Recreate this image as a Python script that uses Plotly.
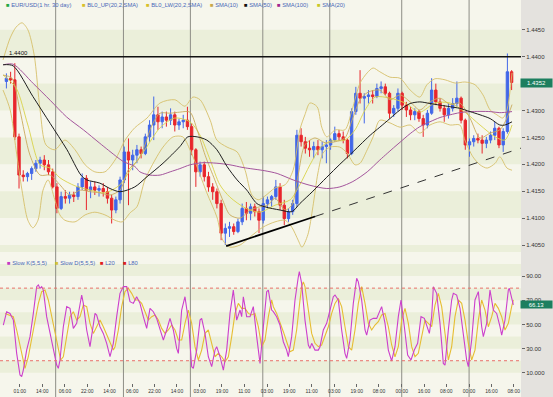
import plotly.graph_objects as go

# ---------------- data (3-hour bars) ----------------
bar_open = [1.4354, 1.4360, 1.4357, 1.4251, 1.4180, 1.4177, 1.4183, 1.4192, 1.4202, 1.4208,
            1.4199, 1.4186, 1.4158, 1.4118, 1.4140, 1.4137, 1.4143, 1.4140, 1.4158, 1.4174,
            1.4152, 1.4158, 1.4152, 1.4155, 1.4149, 1.4137, 1.4115, 1.4134, 1.4171, 1.4223,
            1.4208, 1.4217, 1.4227, 1.4220, 1.4251, 1.4273, 1.4292, 1.4279, 1.4288, 1.4282,
            1.4292, 1.4273, 1.4279, 1.4282, 1.4270, 1.4227, 1.4186, 1.4199, 1.4177, 1.4158,
            1.4149, 1.4127, 1.4072, 1.4081, 1.4084, 1.4075, 1.4093, 1.4118, 1.4109, 1.4121,
            1.4112, 1.4096, 1.4127, 1.4134, 1.4140, 1.4158, 1.4124, 1.4099, 1.4112, 1.4127,
            1.4254, 1.4242, 1.4230, 1.4227, 1.4233, 1.4227, 1.4233, 1.4236, 1.4245, 1.4257,
            1.4251, 1.4245, 1.4220, 1.4298, 1.4332, 1.4323, 1.4326, 1.4329, 1.4326, 1.4341,
            1.4344, 1.4332, 1.4295, 1.4304, 1.4332, 1.4310, 1.4301, 1.4292, 1.4298, 1.4285,
            1.4273, 1.4295, 1.4338, 1.4316, 1.4304, 1.4292, 1.4304, 1.4313, 1.4323, 1.4282,
            1.4236, 1.4242, 1.4248, 1.4245, 1.4239, 1.4245, 1.4254, 1.4267, 1.4236, 1.4261,
            1.4372]
bar_high = [1.4369, 1.4372, 1.4388, 1.4257, 1.4189, 1.4186, 1.4196, 1.4208, 1.4214, 1.4217,
            1.4208, 1.4192, 1.4165, 1.4149, 1.4152, 1.4149, 1.4149, 1.4165, 1.4183, 1.4180,
            1.4168, 1.4168, 1.4161, 1.4165, 1.4158, 1.4143, 1.4140, 1.4177, 1.4233, 1.4248,
            1.4227, 1.4236, 1.4233, 1.4257, 1.4282, 1.4326, 1.4307, 1.4298, 1.4298, 1.4304,
            1.4298, 1.4285, 1.4292, 1.4307, 1.4276, 1.4230, 1.4205, 1.4205, 1.4186, 1.4165,
            1.4155, 1.4134, 1.4090, 1.4093, 1.4090, 1.4099, 1.4127, 1.4130, 1.4127, 1.4127,
            1.4118, 1.4140, 1.4140, 1.4143, 1.4171, 1.4165, 1.4134, 1.4118, 1.4134, 1.4264,
            1.4267, 1.4251, 1.4245, 1.4242, 1.4245, 1.4242, 1.4245, 1.4248, 1.4270, 1.4264,
            1.4261, 1.4248, 1.4304, 1.4344, 1.4375, 1.4332, 1.4338, 1.4338, 1.4350, 1.4354,
            1.4350, 1.4335, 1.4310, 1.4341, 1.4335, 1.4316, 1.4307, 1.4304, 1.4301, 1.4292,
            1.4301, 1.4360, 1.4350, 1.4323, 1.4310, 1.4313, 1.4323, 1.4354, 1.4326, 1.4285,
            1.4248, 1.4254, 1.4257, 1.4254, 1.4251, 1.4261, 1.4279, 1.4270, 1.4267, 1.4406,
            1.4375]
bar_low = [1.4341, 1.4350, 1.4245, 1.4155, 1.4168, 1.4168, 1.4171, 1.4186, 1.4192, 1.4189,
           1.4180, 1.4155, 1.4109, 1.4115, 1.4127, 1.4127, 1.4130, 1.4134, 1.4152, 1.4115,
           1.4137, 1.4143, 1.4140, 1.4140, 1.4127, 1.4090, 1.4109, 1.4127, 1.4165, 1.4124,
           1.4189, 1.4202, 1.4211, 1.4217, 1.4242, 1.4245, 1.4264, 1.4267, 1.4270, 1.4273,
           1.4261, 1.4264, 1.4267, 1.4264, 1.4217, 1.4158, 1.4177, 1.4168, 1.4149, 1.4134,
           1.4118, 1.4059, 1.4050, 1.4065, 1.4069, 1.4072, 1.4087, 1.4096, 1.4096, 1.4103,
           1.4072, 1.4090, 1.4118, 1.4121, 1.4134, 1.4115, 1.4087, 1.4093, 1.4106, 1.4121,
           1.4233, 1.4220, 1.4214, 1.4211, 1.4217, 1.4211, 1.4202, 1.4227, 1.4242, 1.4245,
           1.4239, 1.4211, 1.4217, 1.4292, 1.4313, 1.4276, 1.4313, 1.4313, 1.4323, 1.4332,
           1.4329, 1.4285, 1.4288, 1.4298, 1.4301, 1.4288, 1.4282, 1.4282, 1.4279, 1.4251,
           1.4267, 1.4292, 1.4310, 1.4298, 1.4279, 1.4285, 1.4298, 1.4307, 1.4276, 1.4227,
           1.4214, 1.4233, 1.4239, 1.4220, 1.4230, 1.4239, 1.4245, 1.4230, 1.4223, 1.4257,
           1.4338]
bar_close = [1.4360, 1.4357, 1.4251, 1.4180, 1.4177, 1.4183, 1.4192, 1.4202, 1.4208, 1.4199,
             1.4186, 1.4158, 1.4118, 1.4140, 1.4137, 1.4143, 1.4140, 1.4158, 1.4174, 1.4152,
             1.4158, 1.4152, 1.4155, 1.4149, 1.4137, 1.4115, 1.4134, 1.4171, 1.4223, 1.4208,
             1.4217, 1.4227, 1.4220, 1.4251, 1.4273, 1.4292, 1.4279, 1.4288, 1.4282, 1.4292,
             1.4273, 1.4279, 1.4282, 1.4270, 1.4227, 1.4186, 1.4199, 1.4177, 1.4158, 1.4149,
             1.4127, 1.4072, 1.4081, 1.4084, 1.4075, 1.4093, 1.4118, 1.4109, 1.4121, 1.4112,
             1.4096, 1.4127, 1.4134, 1.4140, 1.4158, 1.4124, 1.4099, 1.4112, 1.4127, 1.4254,
             1.4242, 1.4230, 1.4227, 1.4233, 1.4227, 1.4233, 1.4236, 1.4245, 1.4257, 1.4251,
             1.4245, 1.4220, 1.4298, 1.4332, 1.4323, 1.4326, 1.4329, 1.4326, 1.4341, 1.4344,
             1.4332, 1.4295, 1.4304, 1.4332, 1.4310, 1.4301, 1.4292, 1.4298, 1.4285, 1.4273,
             1.4295, 1.4338, 1.4316, 1.4304, 1.4292, 1.4304, 1.4313, 1.4323, 1.4282, 1.4236,
             1.4242, 1.4248, 1.4245, 1.4239, 1.4245, 1.4254, 1.4267, 1.4236, 1.4261, 1.4372,
             1.4352]
bar_pos = list(range(len(bar_close)))

# Bollinger bands and moving averages (bar position, price)
bb_up_pos = [-0.8, 0.9, 2.3, 3.7, 5.1, 6.6, 8.0, 9.4, 11.5, 13.9, 16.3, 18.7, 21.0, 23.4, 25.8, 28.2,
             30.5, 33.4, 36.5, 40.0, 42.4, 44.3, 46.0, 48.4, 50.0, 52.4, 54.8, 56.7, 58.3, 59.8, 61.4,
             63.8, 66.2, 68.1, 69.7, 70.9, 72.1, 73.8, 74.9, 76.1, 78.1, 80.4, 82.1, 84.0, 85.7, 87.1,
             88.7, 91.1, 93.5, 95.9, 98.2, 99.9, 101.8, 104.2, 106.6, 108.9, 111.3, 113.2, 114.9,
             116.5, 117.9, 118.9, 120.1]
bb_up_val = [1.4394, 1.4435, 1.4455, 1.4463, 1.4450, 1.4403, 1.4301, 1.4236, 1.4227, 1.4245, 1.4227,
             1.4199, 1.4186, 1.4186, 1.4208, 1.4245, 1.4268, 1.4286, 1.4314, 1.4320, 1.4308, 1.4325,
             1.4320, 1.4282, 1.4245, 1.4232, 1.4223, 1.4189, 1.4143, 1.4134, 1.4141, 1.4156, 1.4162,
             1.4189, 1.4264, 1.4292, 1.4314, 1.4307, 1.4269, 1.4251, 1.4264, 1.4264, 1.4301, 1.4351,
             1.4370, 1.4379, 1.4372, 1.4362, 1.4360, 1.4338, 1.4325, 1.4348, 1.4359, 1.4357, 1.4351,
             1.4353, 1.4348, 1.4329, 1.4301, 1.4292, 1.4286, 1.4301, 1.4370]
bb_lo_pos = [-0.8, 0.9, 2.3, 3.7, 5.1, 6.3, 7.5, 8.7, 9.9, 11.5, 12.7, 13.9, 16.3, 18.7, 21.0, 23.4,
             25.8, 27.5, 29.4, 31.0, 32.9, 35.3, 37.2, 39.6, 41.9, 43.6, 45.3, 47.6, 50.0, 51.4, 53.1,
             55.5, 57.9, 60.9, 63.8, 66.2, 67.8, 69.3, 70.2, 71.6, 72.8, 74.0, 75.2, 76.9, 79.2, 80.9,
             82.8, 84.0, 85.7, 87.1, 88.7, 91.1, 93.5, 95.9, 98.2, 100.6, 103.0, 105.4, 107.7, 108.9,
             110.8, 112.5, 114.2, 116.1, 117.2, 118.9, 120.1]
bb_lo_val = [1.4338, 1.4301, 1.4227, 1.4152, 1.4096, 1.4082, 1.4096, 1.4152, 1.4171, 1.4134, 1.4106,
             1.4096, 1.4093, 1.4106, 1.4111, 1.4106, 1.4096, 1.4093, 1.4110, 1.4121, 1.4171, 1.4208,
             1.4232, 1.4251, 1.4251, 1.4227, 1.4195, 1.4147, 1.4102, 1.4059, 1.4046, 1.4050, 1.4065,
             1.4083, 1.4093, 1.4096, 1.4083, 1.4059, 1.4046, 1.4069, 1.4121, 1.4184, 1.4221, 1.4232,
             1.4232, 1.4221, 1.4199, 1.4202, 1.4227, 1.4251, 1.4282, 1.4277, 1.4269, 1.4273, 1.4258,
             1.4273, 1.4279, 1.4273, 1.4273, 1.4245, 1.4214, 1.4199, 1.4193, 1.4202, 1.4214, 1.4193,
             1.4189]
sma10_pos = [-0.8, 1.3, 3.2, 5.6, 8.0, 10.4, 12.7, 15.1, 17.5, 19.9, 22.2, 24.6, 27.0, 28.9, 31.3,
             32.9, 34.6, 36.5, 38.9, 41.2, 43.6, 45.3, 47.2, 49.5, 51.2, 53.1, 55.5, 57.9, 60.2, 62.1,
             63.8, 66.2, 67.8, 69.3, 70.9, 73.3, 75.7, 78.1, 80.4, 82.1, 84.0, 85.9, 88.7, 91.1, 93.5,
             95.9, 98.2, 100.6, 103.0, 105.4, 107.7, 110.1, 112.5, 114.9, 117.2, 118.9, 120.1]
sma10_val = [1.4366, 1.4360, 1.4301, 1.4217, 1.4180, 1.4180, 1.4162, 1.4143, 1.4152, 1.4149, 1.4147,
             1.4143, 1.4152, 1.4189, 1.4208, 1.4236, 1.4273, 1.4295, 1.4295, 1.4297, 1.4297, 1.4264,
             1.4217, 1.4171, 1.4137, 1.4106, 1.4100, 1.4115, 1.4121, 1.4124, 1.4137, 1.4115, 1.4124,
             1.4180, 1.4236, 1.4249, 1.4240, 1.4242, 1.4249, 1.4282, 1.4320, 1.4334, 1.4338, 1.4320,
             1.4329, 1.4316, 1.4301, 1.4316, 1.4323, 1.4311, 1.4314, 1.4286, 1.4249, 1.4258, 1.4264,
             1.4286, 1.4311]
sma20_pos = [-0.8, 2.3, 5.1, 8.0, 10.4, 12.7, 16.3, 19.9, 23.4, 27.0, 29.4, 32.9, 36.5, 40.0, 43.6,
             46.0, 48.4, 50.7, 53.1, 56.7, 60.2, 63.8, 67.4, 69.7, 72.1, 74.5, 76.9, 80.4, 82.8, 85.2,
             87.6, 91.1, 94.7, 98.2, 101.8, 105.4, 108.9, 112.5, 116.1, 118.4, 120.1]
sma20_val = [1.4366, 1.4342, 1.4273, 1.4199, 1.4193, 1.4175, 1.4160, 1.4152, 1.4147, 1.4162, 1.4189,
             1.4227, 1.4268, 1.4286, 1.4279, 1.4254, 1.4208, 1.4162, 1.4139, 1.4119, 1.4111, 1.4124,
             1.4134, 1.4162, 1.4199, 1.4230, 1.4243, 1.4245, 1.4264, 1.4301, 1.4325, 1.4323, 1.4314,
             1.4297, 1.4314, 1.4314, 1.4297, 1.4273, 1.4251, 1.4245, 1.4273]
sma50_pos = [-0.8, 1.6, 6.3, 10.4, 14.4, 17.7, 19.1, 22.2, 24.6, 27.0, 30.5, 33.4, 37.2, 41.2, 43.1,
             45.3, 47.6, 50.0, 52.4, 54.8, 57.1, 59.5, 61.4, 65.0, 67.8, 69.7, 72.8, 76.1, 79.2, 81.1,
             84.0, 86.4, 88.7, 91.1, 93.5, 95.9, 98.2, 100.6, 103.0, 105.4, 107.7, 110.1, 112.5, 114.9,
             117.2, 118.4, 120.1]
sma50_val = [1.4385, 1.4383, 1.4326, 1.4276, 1.4227, 1.4180, 1.4171, 1.4165, 1.4155, 1.4149, 1.4158,
             1.4177, 1.4202, 1.4233, 1.4251, 1.4251, 1.4245, 1.4227, 1.4196, 1.4171, 1.4152, 1.4127,
             1.4121, 1.4115, 1.4112, 1.4127, 1.4150, 1.4176, 1.4200, 1.4214, 1.4236, 1.4254, 1.4269,
             1.4285, 1.4301, 1.4313, 1.4316, 1.4313, 1.4310, 1.4307, 1.4304, 1.4298, 1.4292, 1.4285,
             1.4273, 1.4273, 1.4279]
sma100_pos = [-0.7, 1.6, 6.4, 10.4, 14.3, 18.3, 22.2, 26.2, 27.8, 30.5, 31.7, 34.1, 36.5, 38.9, 41.2,
              43.6, 46.7, 50.0, 53.1, 56.2, 61.4, 64.3, 68.1, 72.1, 76.1, 79.2, 82.3, 85.7, 88.7, 92.3,
              93.5, 95.9, 98.2, 100.6, 103.0, 105.4, 107.7, 110.1, 114.9, 117.2, 120.1]
sma100_val = [1.4385, 1.4386, 1.4350, 1.4319, 1.4288, 1.4264, 1.4239, 1.4214, 1.4205, 1.4196, 1.4186,
              1.4180, 1.4180, 1.4186, 1.4192, 1.4199, 1.4203, 1.4202, 1.4199, 1.4194, 1.4188, 1.4183,
              1.4171, 1.4161, 1.4155, 1.4158, 1.4168, 1.4186, 1.4208, 1.4233, 1.4241, 1.4257, 1.4270,
              1.4279, 1.4287, 1.4292, 1.4296, 1.4298, 1.4298, 1.4296, 1.4298]

# Slow stochastic
k_pos = [-0.73, 0.06, 0.86, 1.65, 2.44, 3.23, 3.63, 4.02, 4.81, 5.61,
         6.40, 7.19, 7.59, 7.98, 8.38, 8.77, 9.56, 10.36, 11.15, 11.94,
         12.34, 12.73, 13.52, 14.32, 15.11, 15.90, 16.69, 17.48, 17.88, 18.27,
         19.07, 19.86, 20.65, 21.05, 21.44, 22.23, 23.02, 23.82, 24.61, 25.40,
         26.19, 26.98, 27.78, 28.57, 29.36, 30.15, 30.94, 31.73, 32.53, 33.32,
         34.11, 34.90, 35.69, 36.48, 37.28, 38.07, 38.86, 39.65, 40.44, 40.84,
         41.63, 42.42, 43.21, 44.01, 44.40, 45.19, 45.99, 46.38, 47.17, 47.96,
         48.76, 49.55, 49.95, 50.74, 51.53, 52.32, 53.11, 53.90, 54.70, 55.49,
         55.88, 56.28, 57.07, 57.86, 58.65, 59.45, 60.24, 61.03, 61.82, 62.22,
         63.01, 63.40, 64.19, 64.98, 65.78, 66.57, 66.96, 67.76, 68.55, 69.34,
         69.58, 70.13, 70.92, 71.72, 72.11, 72.51, 73.30, 74.09, 74.49, 75.28,
         76.07, 76.86, 77.65, 78.05, 78.84, 79.63, 80.42, 80.82, 81.61, 82.40,
         83.20, 83.59, 84.38, 85.18, 85.57, 86.36, 87.15, 87.95, 89.13, 89.93,
         90.72, 91.51, 92.30, 93.09, 93.73, 94.52, 95.31, 96.10, 96.89, 97.68,
         98.48, 99.27, 100.06, 100.46, 101.01, 101.41, 102.20, 102.99, 103.78, 104.18,
         104.97, 105.76, 106.16, 106.95, 107.74, 108.53, 109.32, 109.72, 110.51, 111.30,
         112.10, 112.89, 113.28, 114.07, 114.87, 115.66, 116.45, 117.24, 117.64, 118.43,
         119.22, 119.46, 120.09, 120.41]
k_val = [49.5, 60.5, 59.1, 53.6, 26.1, 8.2, 6.8, 12.3, 28.8, 39.9,
         59.1, 81.2, 82.6, 79.8, 81.2, 78.4, 56.4, 42.6, 31.6, 16.4,
         13.7, 20.6, 48.1, 64.7, 63.3, 46.7, 50.9, 67.4, 74.3, 67.4,
         45.4, 31.6, 50.9, 59.1, 57.8, 48.1, 42.6, 34.4, 23.3, 34.4,
         56.4, 75.7, 81.2, 81.2, 68.8, 67.4, 72.9, 67.4, 56.4, 46.7,
         63.3, 60.5, 55.0, 46.7, 37.1, 45.4, 55.0, 45.4, 30.2, 26.1,
         61.9, 72.9, 53.6, 15.1, 13.7, 28.8, 53.6, 55.0, 42.6, 23.3,
         15.1, 28.8, 31.6, 23.3, 12.3, 28.8, 59.1, 78.4, 53.6, 61.9,
         56.4, 72.9, 56.4, 56.4, 64.7, 39.9, 17.8, 48.1, 77.1, 78.4,
         61.9, 60.5, 56.4, 49.5, 35.7, 28.8, 23.3, 39.9, 70.2, 89.4,
         93.6, 83.9, 53.6, 33.0, 30.2, 34.4, 28.8, 28.8, 31.6, 45.4,
         50.9, 61.9, 72.9, 74.3, 70.2, 45.4, 26.1, 22.0, 37.1, 67.4,
         88.1, 85.2, 70.2, 45.4, 41.2, 53.6, 55.0, 55.0, 64.7, 50.9,
         28.8, 19.8, 31.6, 56.4, 70.2, 48.1, 24.7, 20.6, 28.8, 34.4,
         56.4, 55.0, 45.4, 42.6, 56.4, 81.2, 75.7, 50.9, 17.8, 16.4,
         45.4, 70.2, 75.7, 74.3, 63.3, 39.9, 20.6, 15.1, 37.1, 70.2,
         77.1, 48.1, 39.9, 50.9, 78.4, 61.9, 59.1, 48.1, 41.2, 53.6,
         78.4, 79.8, 70.2, 66.1]
d_pos = [-0.33, 0.86, 1.65, 2.44, 3.23, 4.02, 4.42, 5.21, 6.00, 6.79,
         7.59, 8.38, 9.17, 9.96, 10.75, 11.54, 12.34, 12.89, 13.52, 14.32,
         15.11, 15.90, 16.69, 17.48, 18.27, 19.07, 19.86, 20.65, 21.44, 22.23,
         23.02, 23.82, 24.61, 25.40, 25.80, 26.59, 27.38, 28.17, 28.96, 29.75,
         30.55, 31.34, 32.13, 32.92, 33.71, 34.51, 35.30, 36.09, 36.88, 37.67,
         38.46, 39.26, 40.05, 40.84, 41.63, 42.42, 43.21, 44.01, 44.80, 45.59,
         46.38, 47.17, 47.96, 48.76, 49.55, 50.34, 51.13, 51.92, 52.72, 53.51,
         54.30, 55.09, 55.88, 56.67, 57.47, 58.26, 59.05, 59.84, 60.63, 61.42,
         62.22, 63.01, 63.40, 64.19, 64.98, 65.78, 66.57, 67.36, 68.15, 68.94,
         69.74, 70.13, 70.53, 70.92, 71.72, 72.51, 73.30, 74.09, 74.88, 75.67,
         76.47, 77.26, 78.05, 78.84, 79.63, 80.42, 81.22, 82.01, 82.80, 83.59,
         84.38, 85.18, 85.97, 86.76, 87.55, 88.34, 89.13, 89.93, 90.72, 91.51,
         92.30, 93.09, 93.89, 94.68, 95.47, 96.26, 97.05, 97.84, 98.64, 99.43,
         100.22, 101.01, 101.80, 102.59, 103.39, 104.18, 104.97, 105.76, 106.55, 107.34,
         108.14, 108.93, 109.72, 110.51, 111.30, 112.10, 112.89, 113.68, 114.47, 115.27,
         116.06, 116.85, 117.64, 118.43, 119.22, 120.01, 120.41]
d_val = [59.1, 57.8, 56.4, 45.4, 31.6, 17.8, 13.7, 23.3, 37.1, 50.9,
         67.4, 77.1, 78.4, 70.2, 56.4, 45.4, 31.6, 20.6, 23.3, 39.9,
         56.4, 60.5, 53.6, 56.4, 66.0, 64.7, 50.9, 42.6, 48.1, 53.6,
         48.1, 41.2, 34.4, 28.8, 31.6, 45.4, 64.7, 77.1, 79.8, 75.7,
         70.2, 70.2, 67.4, 60.5, 53.6, 56.4, 57.8, 53.6, 46.7, 42.6,
         45.4, 49.5, 45.4, 37.1, 37.1, 50.9, 61.9, 50.9, 31.6, 20.6,
         28.8, 42.6, 45.4, 34.4, 23.3, 26.1, 23.3, 19.2, 23.3, 39.9,
         59.1, 67.4, 63.3, 63.3, 59.1, 57.8, 59.1, 48.1, 31.6, 37.1,
         56.4, 70.2, 64.7, 59.1, 52.3, 44.0, 35.7, 27.5, 28.8, 45.4,
         70.2, 81.2, 85.2, 81.2, 61.9, 42.6, 34.4, 31.6, 33.0, 39.9,
         48.1, 59.1, 67.4, 71.5, 64.7, 48.1, 31.6, 28.8, 45.4, 67.4,
         81.2, 67.4, 50.9, 45.4, 49.5, 52.3, 57.8, 59.1, 48.1, 33.0,
         23.3, 31.6, 53.6, 63.3, 50.9, 31.6, 23.3, 26.1, 39.9, 53.6,
         50.9, 48.1, 66.0, 75.7, 64.7, 39.9, 20.6, 31.6, 56.4, 70.2,
         67.4, 53.6, 34.4, 20.6, 28.8, 53.6, 70.2, 61.9, 48.1, 56.4,
         67.4, 63.3, 56.4, 45.4, 50.9, 64.7, 70.2]

# axis ticks / reference levels
tick_pos = [3.2, 8.5, 13.9, 19.2, 24.5, 29.9, 35.2, 40.5, 45.9, 51.2, 56.5, 61.9,
            67.2, 72.5, 77.9, 83.2, 88.5, 93.9, 99.2, 104.5, 109.9, 115.2, 120.5]
tick_text = ["01:00", "14:00", "06:00", "22:00", "14:00", "06:00", "22:00", "14:00",
             "03:00", "19:00", "11:00", "03:00", "19:00", "11:00", "03:00", "19:00",
             "08:00", "00:00", "16:00", "08:00", "00:00", "16:00", "08:00"]
day_lines = [11.7, 27.8, 43.7, 60.9, 76.8, 93.9, 109.9]
price_ticks = [1.4450, 1.4400, 1.4300, 1.4250, 1.4200, 1.4150, 1.4100, 1.4050]
price_tick_text = ["1.4450", "1.4400", "1.4300", "1.4250", "1.4200", "1.4150", "1.4100", "1.4050"]
stoch_ticks = [90, 70, 50, 30, 10]
stoch_tick_text = ["90.00", "70.00", "50.00", "30.00", "10.000"]
stoch_levels = [20, 80]
resistance = 1.4400
last_price = 1.4352
last_stoch = 66.13
trend_pos = [52.2, 73.3, 122.2]
trend_val = [1.4048, 1.4103, 1.4230]
price_bands = [(1.4000, 1.4050), (1.4100, 1.4150), (1.4200, 1.4250), (1.4300, 1.4350), (1.4400, 1.4450)]
stoch_bands = [(10, 20), (30, 40), (50, 60), (70, 80), (90, 100)]

# ---------------- figure ----------------
W, H = 553, 397
XR = 521 / W
FONT = "Liberation Sans, Arial, DejaVu Sans, sans-serif"
CREAM = "#f6f6ec"
BAND = "#ebefda"
TAN = "#d6c06a"

fig = go.Figure()

fig.add_trace(go.Candlestick(
    x=bar_pos, open=bar_open, high=bar_high, low=bar_low, close=bar_close,
    xaxis="x", yaxis="y", whiskerwidth=0, hoverinfo="skip", showlegend=False,
    increasing=dict(line=dict(color="#4267e8", width=1), fillcolor="#4267e8"),
    decreasing=dict(line=dict(color="#e8262c", width=1), fillcolor="#e8262c"),
))

def overlay(xs, ys, color, width, axis=("x", "y"), shape="spline", dash="solid"):
    fig.add_trace(go.Scatter(x=xs, y=ys, mode="lines", xaxis=axis[0], yaxis=axis[1],
                             line=dict(color=color, width=width, shape=shape, dash=dash,
                                       **({"smoothing": 0.8} if shape == "spline" else {})),
                             hoverinfo="skip", showlegend=False))

overlay(bb_up_pos, bb_up_val, TAN, 0.9)
overlay(bb_lo_pos, bb_lo_val, TAN, 0.9)
overlay(sma20_pos, sma20_val, "#d9d24a", 0.9)
overlay(sma10_pos, sma10_val, "#c9aa5c", 0.9)
overlay(sma100_pos, sma100_val, "#a4559c", 1.0)
overlay(sma50_pos, sma50_val, "#1e1e1e", 1.0)
overlay(trend_pos[:2], trend_val[:2], "#000000", 1.8, shape="linear")
overlay(trend_pos[1:], trend_val[1:], "#333333", 1.0, shape="linear", dash="dash")

overlay(d_pos, d_val, "#e6bd32", 1.1, axis=("x2", "y2"), shape="linear")
overlay(k_pos, k_val, "#cc3fcc", 1.1, axis=("x2", "y2"), shape="linear")

shapes = [dict(type="rect", xref="paper", yref="paper", x0=0, x1=XR, y0=0, y1=1,
               fillcolor=CREAM, line=dict(width=0), layer="below")]
for lo, hi in price_bands:
    shapes.append(dict(type="rect", xref="x domain", yref="y", x0=0, x1=1, y0=lo, y1=hi,
                       fillcolor=BAND, line=dict(width=0), layer="below"))
for lo, hi in stoch_bands:
    shapes.append(dict(type="rect", xref="x2 domain", yref="y2", x0=0, x1=1, y0=lo, y1=hi,
                       fillcolor=BAND, line=dict(width=0), layer="below"))
for d in day_lines:
    shapes.append(dict(type="line", xref="x", yref="paper", x0=d, x1=d, y0=0, y1=1,
                       line=dict(color="#8e8e86", width=1), layer="below"))
shapes.append(dict(type="line", xref="x domain", yref="y", x0=0, x1=1, y0=resistance, y1=resistance,
                   line=dict(color="#111111", width=1.5)))
for lv in stoch_levels:
    shapes.append(dict(type="line", xref="x2 domain", yref="y2", x0=0, x1=1, y0=lv, y1=lv,
                       line=dict(color="#e8706a", width=1, dash="dot")))

LEG_TXT = "#4868b8"
annotations = []
price_legend = [("EUR/USD(1 hr. 30 day)", "#22a845", 4), ("BL0_UP(20,2,SMA)", "#d8c02a", 80),
                ("BL0_LW(20,2,SMA)", "#d8c02a", 144), ("SMA(10)", "#c9a84a", 208),
                ("SMA(50)", "#111111", 242), ("SMA(100)", "#a0288f", 275), ("SMA(20)", "#c8c828", 315)]
for txt, col, px in price_legend:
    annotations.append(dict(xref="paper", yref="paper", x=px / W, y=1 - 5 / H, xanchor="left",
                            yanchor="middle", showarrow=False,
                            text=f'<span style="color:{col}">■</span> {txt}',
                            font=dict(size=5.8, color=LEG_TXT, family=FONT)))
stoch_legend = [("Slow K(5,5,5)", "#c43bc4", 5), ("Slow D(5,5,5)", "#d8c236", 53),
                ("L20", "#e0201c", 98), ("L80", "#e0201c", 121)]
for txt, col, px in stoch_legend:
    annotations.append(dict(xref="paper", yref="paper", x=px / W, y=1 - 263 / H, xanchor="left",
                            yanchor="middle", showarrow=False,
                            text=f'<span style="color:{col}">■</span> {txt}',
                            font=dict(size=5.8, color=LEG_TXT, family=FONT)))
annotations.append(dict(xref="paper", yref="y", x=7 / W, y=resistance, xanchor="left", yanchor="bottom",
                        showarrow=False, text=f"{resistance:.4f}", yshift=-1,
                        font=dict(size=6, color="#111111", family=FONT)))
annotations.append(dict(xref="paper", yref="y", x=1, y=last_price, xanchor="right", yanchor="middle",
                        showarrow=False, text=f"{last_price:.4f}", bgcolor="#1d7f5f", width=31, height=8,
                        borderpad=0, font=dict(size=6, color="#ffffff", family=FONT)))
annotations.append(dict(xref="paper", yref="y2", x=1, y=last_stoch, xanchor="right", yanchor="middle",
                        showarrow=False, text=f"{last_stoch:.2f}", bgcolor="#1d7f5f", width=31, height=7,
                        borderpad=0, font=dict(size=6, color="#ffffff", family=FONT)))

X_RANGE = [-1.52, 122.23]
fig.update_layout(
    width=W, height=H, margin=dict(l=0, r=0, t=0, b=0),
    paper_bgcolor="#e4e2de", plot_bgcolor="rgba(0,0,0,0)",
    showlegend=False, hovermode=False, boxgap=0.2,
    font=dict(family=FONT, size=6, color="#333333"),
    shapes=shapes, annotations=annotations,
    xaxis=dict(domain=[0, XR], range=X_RANGE, anchor="y", showticklabels=False, ticks="",
               showgrid=False, zeroline=False, showline=False, rangeslider=dict(visible=False)),
    xaxis2=dict(domain=[0, XR], range=X_RANGE, anchor="y2", matches="x", tickmode="array",
                tickvals=tick_pos, ticktext=tick_text, ticks="outside", ticklen=3, tickwidth=1,
                tickcolor="#666666", tickfont=dict(size=5, color="#333333", family=FONT),
                showgrid=False, zeroline=False, showline=False),
    yaxis=dict(domain=[1 - 252 / H, 1], range=[1.4037, 1.45054], anchor="x", side="right",
               tickmode="array", tickvals=price_ticks, ticktext=price_tick_text, ticks="outside",
               ticklen=3, tickcolor="#666666", tickfont=dict(size=6, color="#333333", family=FONT),
               showgrid=False, zeroline=False, showline=False),
    yaxis2=dict(domain=[1 - 383 / H, 1 - 254 / H], range=[1.6, 108.2], anchor="x2", side="right",
                tickmode="array", tickvals=stoch_ticks, ticktext=stoch_tick_text, ticks="outside",
                ticklen=3, tickcolor="#666666", tickfont=dict(size=6, color="#333333", family=FONT),
                showgrid=False, zeroline=False, showline=False),
)

fig.write_html("out.html", config={"displayModeBar": False},
               post_script="document.body.style.margin='0';document.body.style.padding='0';")
